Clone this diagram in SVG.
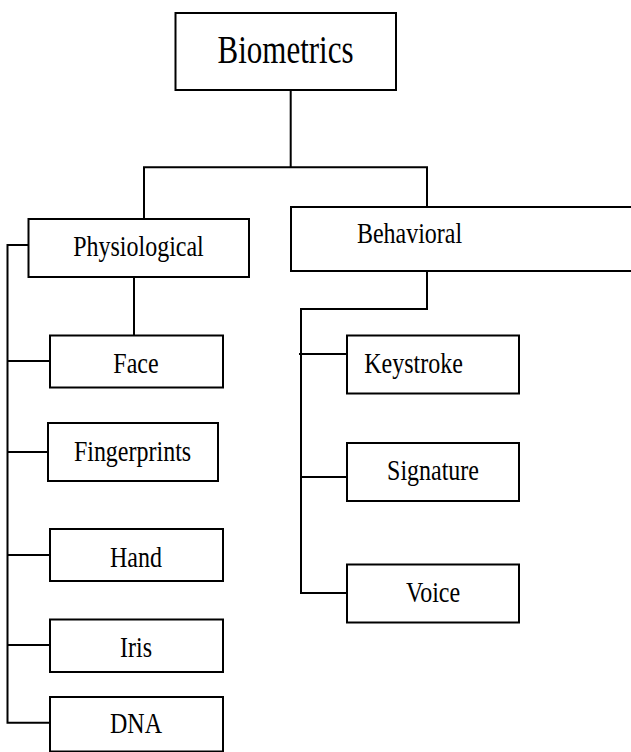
<svg xmlns="http://www.w3.org/2000/svg" width="631" height="752" viewBox="0 0 631 752">
<style>
.box{fill:#fff;stroke:#000;stroke-width:2}
.ln{fill:none;stroke:#000;stroke-width:2}
.t{font-family:"Liberation Serif","Times New Roman",serif;font-size:24px;fill:#000;text-anchor:middle}
.big{font-size:31px}
</style>
<rect width="631" height="752" fill="#fff"/>
<g id="connectors">
<path class="ln" d="M290.7,90 V167.3 M144,219 V167.3 H427 V207"/>
<path class="ln" d="M28,245 H7.5 V722.7 H50 M7.5,361 H50 M7.5,452 H50 M7.5,555 H50 M7.5,645 H50"/>
<path class="ln" d="M134,270.7 V335"/>
<path class="ln" d="M427,271 V309 H301 V593 H349 M299,354 H347 M301,477 H349"/>
</g>
<g id="biometrics"><rect class="box" x="175.5" y="13" width="220.5" height="77"/><text class="t big" transform="translate(285.5,63) scale(1,1.27)">Biometrics</text></g>
<g id="physiological"><rect class="box" x="28.5" y="219" width="220.5" height="58"/><text class="t" transform="translate(138.5,256) scale(1,1.24)">Physiological</text></g>
<g id="behavioral"><rect class="box" x="291" y="207" width="350" height="64"/><text class="t" transform="translate(409.5,243) scale(1,1.24)">Behavioral</text></g>
<g id="face"><rect class="box" x="50" y="335.5" width="173" height="52"/><text class="t" transform="translate(136,373) scale(1,1.24)">Face</text></g>
<g id="fingerprints"><rect class="box" x="48" y="423" width="170" height="58"/><text class="t" transform="translate(132.5,461) scale(1,1.24)">Fingerprints</text></g>
<g id="hand"><rect class="box" x="50" y="529" width="173" height="52"/><text class="t" transform="translate(136,567) scale(1,1.24)">Hand</text></g>
<g id="iris"><rect class="box" x="50" y="619.5" width="173" height="52.5"/><text class="t" transform="translate(136,657) scale(1,1.24)">Iris</text></g>
<g id="dna"><rect class="box" x="50" y="697" width="173" height="54.5"/><text class="t" transform="translate(136,733) scale(1,1.24)">DNA</text></g>
<g id="keystroke"><rect class="box" x="347" y="335.5" width="172" height="58"/><text class="t" transform="translate(413.5,373) scale(1,1.24)">Keystroke</text></g>
<g id="signature"><rect class="box" x="347" y="443" width="172" height="58"/><text class="t" transform="translate(433,480) scale(1,1.24)">Signature</text></g>
<g id="voice"><rect class="box" x="347" y="564.5" width="172" height="58"/><text class="t" transform="translate(433,602) scale(1,1.24)">Voice</text></g>
</svg>
